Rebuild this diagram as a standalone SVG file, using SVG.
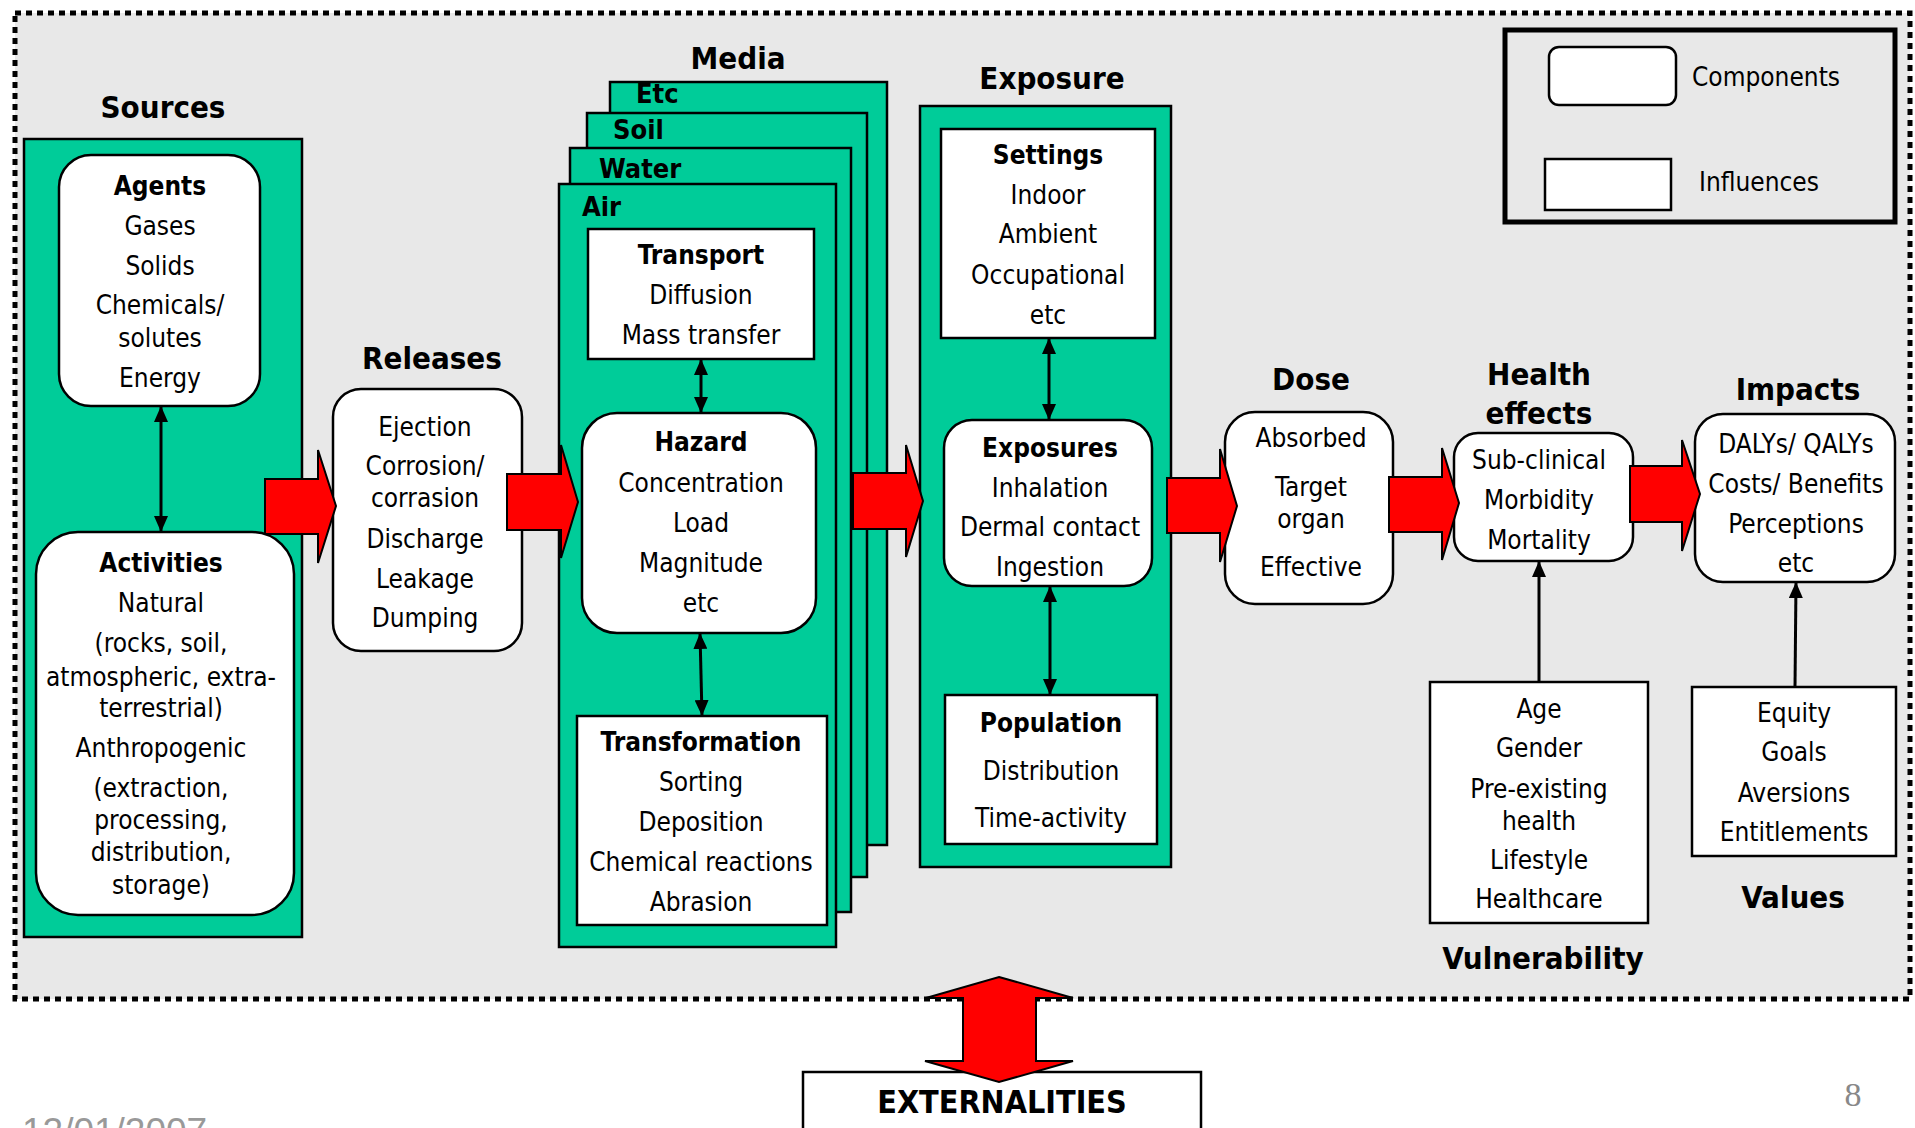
<svg xmlns="http://www.w3.org/2000/svg" width="1915" height="1128" viewBox="0 0 1915 1128">
<style>
text{font-family:"DejaVu Sans Condensed","DejaVu Sans",sans-serif;font-stretch:condensed;fill:#000}
.t{font-size:26px;text-anchor:middle}
.b{font-weight:bold}
.h{font-size:31px;font-weight:bold;text-anchor:middle}
.lay{font-size:27px;font-weight:bold}
.green{fill:#00CC99;stroke:#000;stroke-width:2.5}
.box{fill:#fff;stroke:#000;stroke-width:2.5}
.red{fill:#FF0000;stroke:#000;stroke-width:2;stroke-linejoin:miter}
.con{stroke:#000;stroke-width:3;fill:none}
</style>
<defs>
<marker id="ah" viewBox="0 0 16 14" refX="16" refY="7" markerWidth="16" markerHeight="14" markerUnits="userSpaceOnUse" orient="auto-start-reverse">
<path d="M0,0 L16,7 L0,14 z" fill="#000"/>
</marker>
</defs>
<rect x="0" y="0" width="1915" height="1128" fill="#fff"/>
<rect id="frame" x="15" y="13" width="1895" height="986" fill="#E8E8E8" stroke="#000" stroke-width="5" stroke-dasharray="6 5"/>

<g id="legend">
<rect x="1505" y="30" width="390" height="192" fill="none" stroke="#000" stroke-width="5"/>
<rect x="1549" y="47" width="127" height="58" rx="10" class="box"/>
<rect x="1545" y="159" width="126" height="51" class="box"/>
<text x="1692" y="86" style="font-size:26px">Components</text>
<text x="1699" y="191" style="font-size:26px">Influences</text>
</g>

<g id="sources">
<text class="h" x="163" y="118">Sources</text>
<rect x="24" y="139" width="278" height="798" class="green"/>
</g>
<g id="agents">
<rect x="59" y="155" width="201" height="251" rx="32" class="box"/>
<text class="t"><tspan class="b" x="160" y="195">Agents</tspan><tspan x="160" y="235">Gases</tspan><tspan x="160" y="275">Solids</tspan><tspan x="160" y="314">Chemicals/</tspan><tspan x="160" y="347">solutes</tspan><tspan x="160" y="387">Energy</tspan></text>
</g>
<g id="activities">
<rect x="36" y="532" width="258" height="383" rx="42" class="box"/>
<text class="t"><tspan class="b" x="161" y="572">Activities</tspan><tspan x="161" y="612">Natural</tspan><tspan x="161" y="652">(rocks, soil,</tspan><tspan x="161" y="686">atmospheric, extra-</tspan><tspan x="161" y="717">terrestrial)</tspan><tspan x="161" y="757">Anthropogenic</tspan><tspan x="161" y="797">(extraction,</tspan><tspan x="161" y="829">processing,</tspan><tspan x="161" y="861">distribution,</tspan><tspan x="161" y="894">storage)</tspan></text>
</g>

<g id="releases">
<text class="h" x="432" y="369">Releases</text>
<rect x="333" y="389" width="189" height="262" rx="28" class="box"/>
<text class="t"><tspan x="425" y="436">Ejection</tspan><tspan x="425" y="475">Corrosion/</tspan><tspan x="425" y="507">corrasion</tspan><tspan x="425" y="548">Discharge</tspan><tspan x="425" y="588">Leakage</tspan><tspan x="425" y="627">Dumping</tspan></text>
</g>

<g id="media">
<text class="h" x="738" y="69">Media</text>
<rect x="610" y="82" width="277" height="763" class="green"/>
<text class="lay" x="636" y="103">Etc</text>
<rect x="587" y="113" width="280" height="764" class="green"/>
<text class="lay" x="613" y="139">Soil</text>
<rect x="570" y="148" width="281" height="764" class="green"/>
<text class="lay" x="599" y="178">Water</text>
<rect x="559" y="184" width="277" height="763" class="green"/>
<text class="lay" x="582" y="216">Air</text>
</g>
<g id="transport">
<rect x="588" y="229" width="226" height="130" class="box"/>
<text class="t"><tspan class="b" x="701" y="264">Transport</tspan><tspan x="701" y="304">Diffusion</tspan><tspan x="701" y="344">Mass transfer</tspan></text>
</g>
<g id="hazard">
<rect x="582" y="413" width="234" height="220" rx="35" class="box"/>
<text class="t"><tspan class="b" x="701" y="451">Hazard</tspan><tspan x="701" y="492">Concentration</tspan><tspan x="701" y="532">Load</tspan><tspan x="701" y="572">Magnitude</tspan><tspan x="701" y="612">etc</tspan></text>
</g>
<g id="transformation">
<rect x="577" y="716" width="250" height="209" class="box"/>
<text class="t"><tspan class="b" x="701" y="751">Transformation</tspan><tspan x="701" y="791">Sorting</tspan><tspan x="701" y="831">Deposition</tspan><tspan x="701" y="871">Chemical reactions</tspan><tspan x="701" y="911">Abrasion</tspan></text>
</g>

<g id="exposure">
<text class="h" x="1052" y="89">Exposure</text>
<rect x="920" y="106" width="251" height="761" class="green"/>
</g>
<g id="settings">
<rect x="941" y="129" width="214" height="209" class="box"/>
<text class="t"><tspan class="b" x="1048" y="164">Settings</tspan><tspan x="1048" y="204">Indoor</tspan><tspan x="1048" y="243">Ambient</tspan><tspan x="1048" y="284">Occupational</tspan><tspan x="1048" y="324">etc</tspan></text>
</g>
<g id="exposures">
<rect x="944" y="420" width="208" height="166" rx="28" class="box"/>
<text class="t"><tspan class="b" x="1050" y="457">Exposures</tspan><tspan x="1050" y="497">Inhalation</tspan><tspan x="1050" y="536">Dermal contact</tspan><tspan x="1050" y="576">Ingestion</tspan></text>
</g>
<g id="population">
<rect x="945" y="695" width="212" height="149" class="box"/>
<text class="t"><tspan class="b" x="1051" y="732">Population</tspan><tspan x="1051" y="780">Distribution</tspan><tspan x="1051" y="827">Time-activity</tspan></text>
</g>

<g id="dose">
<text class="h" x="1311" y="390">Dose</text>
<rect x="1225" y="412" width="168" height="192" rx="30" class="box"/>
<text class="t"><tspan x="1311" y="447">Absorbed</tspan><tspan x="1311" y="496">Target</tspan><tspan x="1311" y="528">organ</tspan><tspan x="1311" y="576">Effective</tspan></text>
</g>
<g id="health">
<text class="h"><tspan x="1539" y="385">Health</tspan><tspan x="1539" y="424">effects</tspan></text>
<rect x="1454" y="433" width="179" height="128" rx="24" class="box"/>
<text class="t"><tspan x="1539" y="469">Sub-clinical</tspan><tspan x="1539" y="509">Morbidity</tspan><tspan x="1539" y="549">Mortality</tspan></text>
</g>
<g id="impacts">
<text class="h" x="1798" y="400">Impacts</text>
<rect x="1695" y="414" width="200" height="168" rx="28" class="box"/>
<text class="t"><tspan x="1796" y="453">DALYs/ QALYs</tspan><tspan x="1796" y="493">Costs/ Benefits</tspan><tspan x="1796" y="533">Perceptions</tspan><tspan x="1796" y="572">etc</tspan></text>
</g>
<g id="vulnerability">
<rect x="1430" y="682" width="218" height="241" class="box"/>
<text class="t"><tspan x="1539" y="718">Age</tspan><tspan x="1539" y="757">Gender</tspan><tspan x="1539" y="798">Pre-existing</tspan><tspan x="1539" y="830">health</tspan><tspan x="1539" y="869">Lifestyle</tspan><tspan x="1539" y="908">Healthcare</tspan></text>
<text class="h" x="1543" y="969">Vulnerability</text>
</g>
<g id="values">
<rect x="1692" y="687" width="204" height="169" class="box"/>
<text class="t"><tspan x="1794" y="722">Equity</tspan><tspan x="1794" y="761">Goals</tspan><tspan x="1794" y="802">Aversions</tspan><tspan x="1794" y="841">Entitlements</tspan></text>
<text class="h" x="1793" y="908">Values</text>
</g>

<g id="externalities">
<rect x="803" y="1072" width="398" height="70" class="box"/>
<text class="t b" x="1002" y="1113" style="font-size:32px">EXTERNALITIES</text>
</g>

<g id="connectors">
<line class="con" x1="161" y1="406" x2="161" y2="532" marker-start="url(#ah)" marker-end="url(#ah)"/>
<line class="con" x1="701" y1="359" x2="701" y2="413" marker-start="url(#ah)" marker-end="url(#ah)"/>
<line class="con" x1="700" y1="633" x2="702" y2="716" marker-start="url(#ah)" marker-end="url(#ah)"/>
<line class="con" x1="1049" y1="338" x2="1049" y2="420" marker-start="url(#ah)" marker-end="url(#ah)"/>
<line class="con" x1="1050" y1="586" x2="1050" y2="695" marker-start="url(#ah)" marker-end="url(#ah)"/>
<line class="con" x1="1539" y1="682" x2="1539" y2="561" marker-end="url(#ah)"/>
<line class="con" x1="1795" y1="687" x2="1796" y2="582" marker-end="url(#ah)"/>
<polygon class="red" points="265,479 318,479 318,450 336,506 318,563 318,534 265,534"/>
<polygon class="red" points="507,474 561,474 561,445 578,502 561,558 561,530 507,530"/>
<polygon class="red" points="853,473 906,473 906,445 923,501 906,557 906,529 853,529"/>
<polygon class="red" points="1167,478 1220,478 1220,449 1237,506 1220,562 1220,533 1167,533"/>
<polygon class="red" points="1389,477 1442,477 1442,448 1459,503 1442,560 1442,532 1389,532"/>
<polygon class="red" points="1630,466 1682,466 1682,440 1700,494 1682,551 1682,522 1630,522"/>
<polygon class="red" points="999,977 1073,998 1036,998 1036,1061 1073,1061 999,1082 925,1061 963,1061 963,998 926,998"/>
</g>

<text x="22" y="1144" style="font-family:'Liberation Sans',Arial,sans-serif;font-stretch:normal;font-size:37px;fill:#999">12/01/2007</text>
<text x="1853" y="1106" style="font-family:'Liberation Serif','Times New Roman',serif;font-stretch:normal;font-size:34px;fill:#888;text-anchor:middle">8</text>
</svg>
